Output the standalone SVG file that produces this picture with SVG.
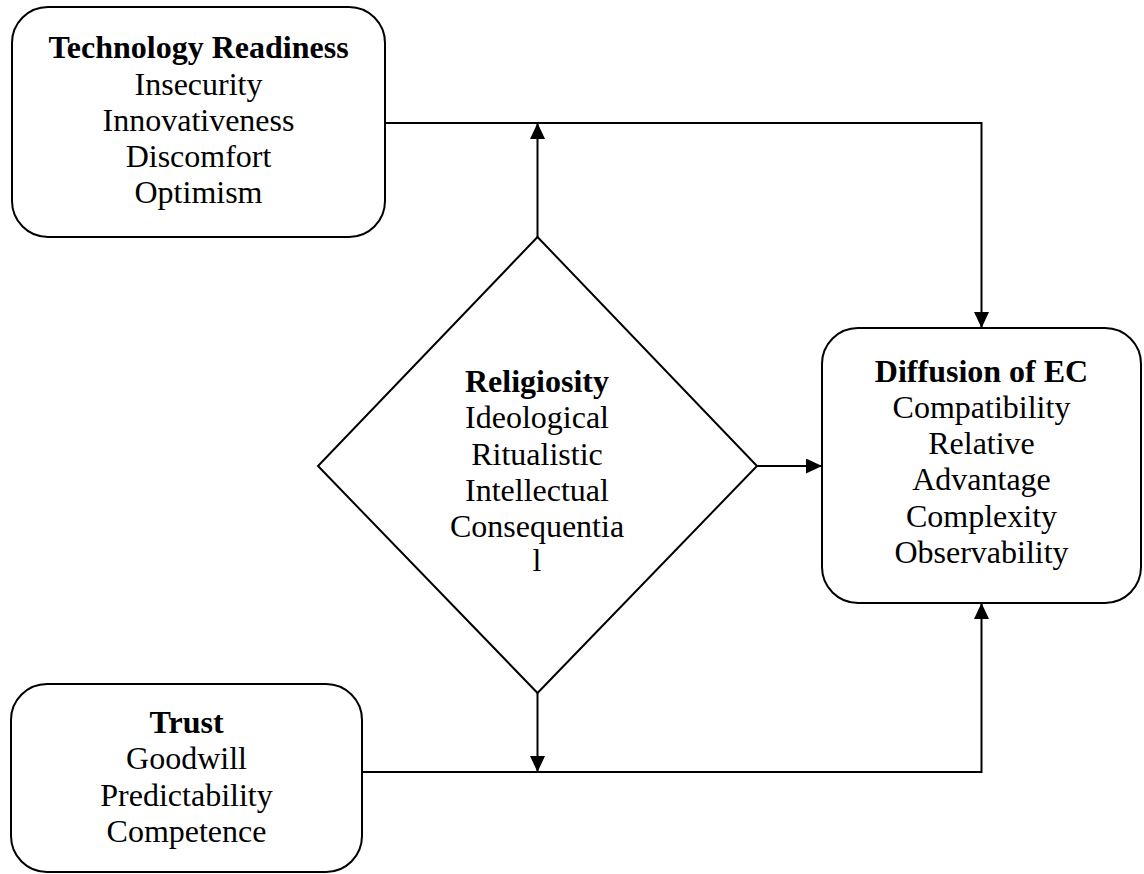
<svg xmlns="http://www.w3.org/2000/svg" width="1144" height="874" viewBox="0 0 1144 874">
  <style>
    .box { fill: #ffffff; stroke: #000000; stroke-width: 2; }
    .conn { fill: none; stroke: #000000; stroke-width: 2; marker-end: url(#arrow); }
    text { font-family: "Liberation Serif", "Times New Roman", serif; font-size: 32px; fill: #000000; text-anchor: middle; }
    .title { font-weight: bold; }
  </style>
  <defs>
    <marker id="arrow" markerUnits="userSpaceOnUse" markerWidth="16" markerHeight="15" refX="16" refY="7.5" orient="auto">
      <path d="M0,0 L16,7.5 L0,15 z" fill="#000000"/>
    </marker>
  </defs>
  <rect width="1144" height="874" fill="#ffffff"/>

  <g id="connectors">
    <polyline class="conn" points="385,123 981.5,123 981.5,328"/>
    <polyline class="conn" points="362,772 981.5,772 981.5,603"/>
    <line class="conn" x1="537.5" y1="237" x2="537.5" y2="123"/>
    <line class="conn" x1="537.5" y1="693" x2="537.5" y2="772"/>
    <line class="conn" x1="757" y1="466" x2="822" y2="466"/>
  </g>

  <g id="technology-readiness">
    <rect class="box" x="12" y="7" width="373" height="230" rx="36" ry="36"/>
    <text x="198.5" y="58" class="title">Technology Readiness</text>
    <text x="198.5" y="95">Insecurity</text>
    <text x="198.5" y="131">Innovativeness</text>
    <text x="198.5" y="167">Discomfort</text>
    <text x="198.5" y="203">Optimism</text>
  </g>

  <g id="religiosity">
    <polygon class="box" points="537.5,237 757,466 537.5,693 318,466"/>
    <text x="537" y="392" class="title">Religiosity</text>
    <text x="537" y="428">Ideological</text>
    <text x="537" y="465">Ritualistic</text>
    <text x="537" y="501">Intellectual</text>
    <text x="537" y="537">Consequentia</text>
    <text x="537" y="571">l</text>
  </g>

  <g id="diffusion-of-ec">
    <rect class="box" x="822" y="328" width="319" height="275" rx="36" ry="36"/>
    <text x="981.5" y="382" class="title">Diffusion of EC</text>
    <text x="981.5" y="418">Compatibility</text>
    <text x="981.5" y="454">Relative</text>
    <text x="981.5" y="490">Advantage</text>
    <text x="981.5" y="527">Complexity</text>
    <text x="981.5" y="563">Observability</text>
  </g>

  <g id="trust">
    <rect class="box" x="11" y="684" width="351" height="188" rx="36" ry="36"/>
    <text x="186.5" y="733" class="title">Trust</text>
    <text x="186.5" y="769">Goodwill</text>
    <text x="186.5" y="806">Predictability</text>
    <text x="186.5" y="842">Competence</text>
  </g>
</svg>
